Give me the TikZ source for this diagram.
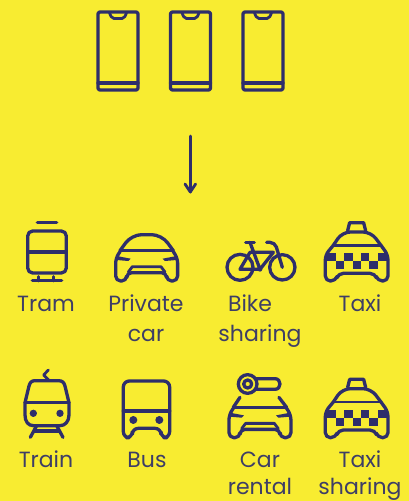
\documentclass[tikz,border=0pt]{standalone}
\usepackage{fontspec}
\setmainfont{Poppins}
\definecolor{bgy}{HTML}{F8EC31}
\definecolor{navy}{HTML}{2E2E6B}
\definecolor{lab}{HTML}{3E3E66}
\tikzset{
  ic/.style={draw=navy,line width=3.3pt,line cap=round,line join=round},
  thin ic/.style={draw=navy,line width=2.8pt,line cap=round,line join=round},
  lbl/.style={anchor=base,text=lab,font=\fontsize{22}{22}\selectfont,inner sep=0pt},
  zoomed/.style={x=0.3333pt,y=-0.3333pt},
  phone/.pic={
    \draw[ic,rounded corners=2pt] (-20,-39) rectangle (20,39);
    \draw[ic] (-20,32) -- (20,32);
    \draw[thin ic,rounded corners=2pt] (-8.5,-38) -- (-6,-32.5) -- (6,-32.5) -- (8.5,-38);
  },
  carbody/.pic={
    \draw[ic,rounded corners=5pt] (360,125) -- (347,145) -- (347,213) -- (380,213) -- (380,188) -- (500,188) -- (500,213) -- (533,213) -- (533,145) -- (520,125);
    \draw[thin ic] (360,122) -- (520,122);
    \draw[thin ic] (385,186) -- (397,170) -- (483,170) -- (495,186);
    \fill[navy] (350,138) -- (392,146) -- (385,153) -- (350,150) -- cycle;
    \fill[navy] (530,138) -- (488,146) -- (495,153) -- (530,150) -- cycle;
  },
  taxi/.pic={
    \draw[ic] (428,62) -- (434,38) -- (476,38) -- (482,62);
    \draw[ic,rounded corners=8pt] (385,106) -- (412,66) -- (498,66) -- (528,106);
    \draw[thin ic] (385,106) -- (528,106);
    \draw[ic,rounded corners=5pt] (385,106) -- (361,135) -- (361,213) -- (392,213) -- (400,190) -- (510,190) -- (518,213) -- (549,213) -- (549,135) -- (528,106);
    \fill[navy] (362,130) rectangle (392,153);
    \fill[navy] (417,130) rectangle (443,153);
    \fill[navy] (468,130) rectangle (493,153);
    \fill[navy] (520,130) rectangle (548,153);
    \fill[navy] (392,153) rectangle (417,177);
    \fill[navy] (443,153) rectangle (468,177);
    \fill[navy] (493,153) rectangle (518,177);
  }
}
\begin{document}
\begin{tikzpicture}[x=1pt,y=-1pt]
\useasboundingbox (0,0) rectangle (409,501);
\fill[bgy] (0,0) rectangle (409,501);
% phones
\pic at (118,51) {phone};
\pic at (190.5,51) {phone};
\pic at (263,51) {phone};
% arrow
\coordinate (arrowtop) at (190.3,136);
\coordinate (arrowtip) at (190.3,192);
\coordinate (headl) at (185,184);
\coordinate (headr) at (195.6,184);
\draw[ic,line width=2.8pt] (arrowtop) -- (arrowtip);
\draw[ic,line width=2.8pt] (headl) -- (arrowtip) -- (headr);
% tram
\begin{scope}[shift={(0,210)},zoomed]
\draw[ic] (112,38) -- (170,38);
\draw[ic,rounded corners=5pt] (83,63) rectangle (199,189);
\draw[ic] (83,126) -- (199,126);
\draw[ic] (97,212) -- (185,212);
\draw[ic] (115,200) -- (115,212) (160,200) -- (160,212);
\end{scope}
% private car
\begin{scope}[shift={(0,210)},zoomed]
\draw[ic,rounded corners=10pt] (360,122) -- (395,74) -- (485,74) -- (520,122);
\pic {carbody};
\end{scope}
% bike
\begin{scope}[shift={(205,210)},zoomed]
\draw[ic] (105,172) circle[radius=39];
\draw[ic] (232,172) circle[radius=38];
\draw[ic] (122,97) -- (148,97);
\draw[ic] (135,97) -- (165,178) -- (105,178) -- (135,127) -- (205,127) -- (165,178);
\draw[ic,rounded corners=5pt] (185,97) -- (210,97) -- (232,172);
\fill[navy] (165,178) circle[radius=7];
\end{scope}
% taxi
\begin{scope}[shift={(205,210)},zoomed]
\pic {taxi};
\end{scope}
% train
\begin{scope}[shift={(0,360)},zoomed]
\draw[thin ic] (145,30) -- (131,45) -- (146,60);
\draw[ic] (105,62) -- (175,62) .. controls (188,62) and (192,68) .. (195,78) -- (207,128) -- (207,165) .. controls (207,185) and (195,197) .. (180,197) -- (100,197) .. controls (85,197) and (75,185) .. (75,165) -- (75,128) -- (87,78) .. controls (90,68) and (94,62) .. (105,62) -- cycle;
\draw[ic] (75,128) -- (207,128);
\fill[navy] (100,160) circle[radius=11];
\fill[navy] (180,160) circle[radius=11];
\draw[ic] (110,197) -- (91,232) (170,197) -- (189,232);
\draw[ic] (103,213) -- (177,213);
\end{scope}
% bus
\begin{scope}[shift={(0,360)},zoomed]
\draw[ic,rounded corners=6pt] (370,63) -- (509,63) -- (509,233) -- (483,233) -- (483,205) -- (397,205) -- (397,233) -- (370,233) -- cycle;
\draw[ic] (370,153) -- (509,153);
\fill[navy] (400,180) circle[radius=12];
\fill[navy] (478,180) circle[radius=12];
\end{scope}
% car rental
\begin{scope}[shift={(113.3,366.7)},zoomed]
\draw[ic] (360,122) -- (380,92);
\draw[ic] (520,122) -- (497,92);
\pic {carbody};
\end{scope}
\begin{scope}[shift={(205,360)},zoomed]
\draw[ic] (150,56) -- (210,56) .. controls (230,56) and (230,88) .. (210,88) -- (150,88);
\draw[ic] (128,72) circle[radius=28];
\draw[ic] (128,72) circle[radius=12];
\end{scope}
% taxi sharing
\begin{scope}[shift={(205,366.67)},zoomed]
\pic {taxi};
\end{scope}
% labels
\node[lbl] (tram) at (46,311.5) {Tram};
\node[lbl] (private) at (146,311.5) {Private};
\node[lbl] (car1) at (146,341) {car};
\node[lbl] (bike) at (250,311.5) {Bike};
\node[lbl] (sharing1) at (260,341) {sharing};
\node[lbl] (taxilab) at (360,311.5) {Taxi};
\node[lbl] (train) at (46,467.5) {Train};
\node[lbl] (bus) at (147,467.5) {Bus};
\node[lbl] (carl) at (260,467.5) {Car};
\node[lbl] (rental) at (260,494) {rental};
\node[lbl] (taxil) at (360,467.5) {Taxi};
\node[lbl] (sharing2) at (360,494) {sharing};
\end{tikzpicture}
\end{document}
